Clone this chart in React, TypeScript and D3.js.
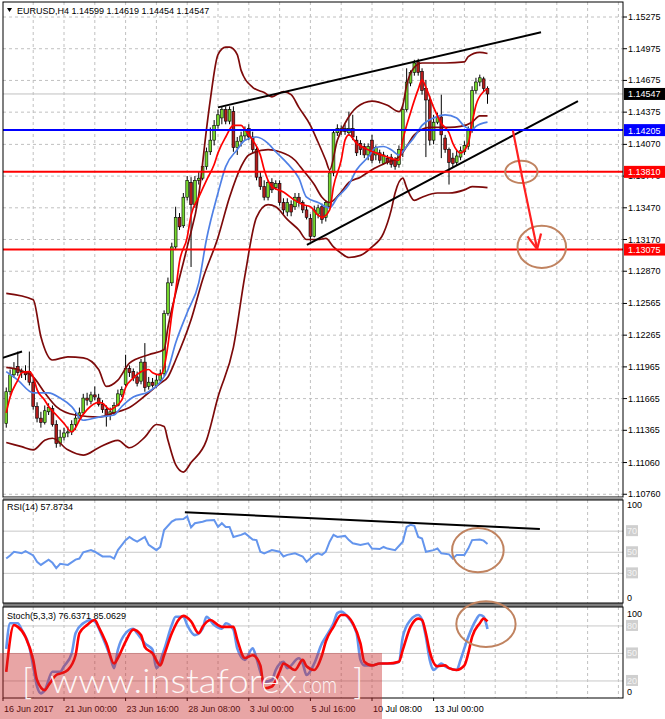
import { useEffect, useRef } from 'react';
import * as d3 from 'd3';

type Pt = [number, number];

// EURUSD H4 bars: [open, high, low, close]
const candles: [number, number, number, number][] = [
  [1.1143, 1.1177, 1.1139, 1.1173], [1.1173, 1.1194, 1.1170, 1.1189], [1.1189, 1.1201, 1.1186, 1.1195],
  [1.1197, 1.1211, 1.1188, 1.1191], [1.1191, 1.1195, 1.1186, 1.1192], [1.1192, 1.1198, 1.1184, 1.1189],
  [1.1192, 1.1211, 1.1179, 1.1182], [1.1182, 1.1186, 1.1156, 1.1159], [1.1159, 1.1163, 1.1144, 1.1148],
  [1.1148, 1.1154, 1.1139, 1.1144], [1.1144, 1.1160, 1.1142, 1.1155], [1.1154, 1.1162, 1.1151, 1.1158],
  [1.1157, 1.1160, 1.1140, 1.1142], [1.1142, 1.1146, 1.1120, 1.1124], [1.1124, 1.1137, 1.1121, 1.1130],
  [1.1130, 1.1139, 1.1127, 1.1134], [1.1134, 1.1140, 1.1130, 1.1135], [1.1135, 1.1146, 1.1132, 1.1142],
  [1.1142, 1.1153, 1.1137, 1.1148], [1.1148, 1.1158, 1.1146, 1.1153], [1.1153, 1.1171, 1.1151, 1.1167],
  [1.1167, 1.1172, 1.1160, 1.1165], [1.1164, 1.1173, 1.1161, 1.1170], [1.1170, 1.1178, 1.1165, 1.1168],
  [1.1167, 1.1171, 1.1159, 1.1161], [1.1161, 1.1165, 1.1153, 1.1156], [1.1156, 1.1160, 1.1140, 1.1150],
  [1.1151, 1.1158, 1.1146, 1.1154], [1.1153, 1.1163, 1.1151, 1.1160], [1.1160, 1.1175, 1.1159, 1.1171],
  [1.1170, 1.1178, 1.1168, 1.1175], [1.1180, 1.1208, 1.1178, 1.1195], [1.1195, 1.1198, 1.1187, 1.1191],
  [1.1192, 1.1195, 1.1183, 1.1186], [1.1187, 1.1192, 1.1178, 1.1181], [1.1183, 1.1204, 1.1180, 1.1201],
  [1.1201, 1.1219, 1.1173, 1.1177], [1.1178, 1.1187, 1.1175, 1.1182], [1.1182, 1.1186, 1.1177, 1.1179],
  [1.1179, 1.1189, 1.1177, 1.1184], [1.1184, 1.1194, 1.1181, 1.1190], [1.1190, 1.1250, 1.1188, 1.1247],
  [1.1247, 1.1281, 1.1245, 1.1276], [1.1276, 1.1314, 1.1273, 1.1310], [1.1310, 1.1348, 1.1307, 1.1338],
  [1.1338, 1.1342, 1.1326, 1.1329], [1.1330, 1.1361, 1.1328, 1.1357], [1.1357, 1.1377, 1.1354, 1.1373],
  [1.1371, 1.1376, 1.1291, 1.1350], [1.1350, 1.1377, 1.1347, 1.1373], [1.1373, 1.1381, 1.1369, 1.1375],
  [1.1375, 1.1389, 1.1373, 1.1386], [1.1386, 1.1404, 1.1383, 1.1400], [1.1400, 1.1423, 1.1397, 1.1411],
  [1.1411, 1.1430, 1.1406, 1.1425], [1.1425, 1.1440, 1.1422, 1.1435], [1.1432, 1.1443, 1.1426, 1.1440],
  [1.1440, 1.1443, 1.1426, 1.1429], [1.1429, 1.1443, 1.1426, 1.1440], [1.1438, 1.1443, 1.1400, 1.1404],
  [1.1404, 1.1414, 1.1397, 1.1410], [1.1410, 1.1419, 1.1405, 1.1415], [1.1415, 1.1424, 1.1411, 1.1421],
  [1.1422, 1.1426, 1.1411, 1.1414], [1.1414, 1.1419, 1.1399, 1.1402], [1.1402, 1.1405, 1.1373, 1.1376],
  [1.1376, 1.1381, 1.1364, 1.1367], [1.1367, 1.1373, 1.1354, 1.1357], [1.1357, 1.1373, 1.1354, 1.1371],
  [1.1371, 1.1375, 1.1361, 1.1364], [1.1366, 1.1373, 1.1364, 1.1370], [1.1370, 1.1373, 1.1349, 1.1352],
  [1.1352, 1.1356, 1.1341, 1.1345], [1.1343, 1.1356, 1.1339, 1.1352], [1.1350, 1.1354, 1.1339, 1.1343],
  [1.1348, 1.1361, 1.1345, 1.1357], [1.1357, 1.1361, 1.1348, 1.1352], [1.1352, 1.1354, 1.1342, 1.1345],
  [1.1345, 1.1349, 1.1336, 1.1338], [1.1337, 1.1341, 1.1315, 1.1320], [1.1320, 1.1349, 1.1319, 1.1345],
  [1.1341, 1.1350, 1.1337, 1.1347], [1.1348, 1.1351, 1.1332, 1.1336], [1.1338, 1.1354, 1.1334, 1.1352],
  [1.1348, 1.1383, 1.1346, 1.1380], [1.1380, 1.1421, 1.1377, 1.1418], [1.1418, 1.1426, 1.1415, 1.1422],
  [1.1419, 1.1425, 1.1416, 1.1422], [1.1422, 1.1426, 1.1416, 1.1419], [1.1418, 1.1438, 1.1415, 1.1422],
  [1.1422, 1.1435, 1.1411, 1.1414], [1.1411, 1.1415, 1.1396, 1.1399], [1.1408, 1.1411, 1.1397, 1.1402],
  [1.1405, 1.1408, 1.1394, 1.1397], [1.1397, 1.1408, 1.1392, 1.1405], [1.1411, 1.1416, 1.1389, 1.1392],
  [1.1397, 1.1406, 1.1392, 1.1404], [1.1399, 1.1402, 1.1389, 1.1392], [1.1389, 1.1400, 1.1388, 1.1397],
  [1.1394, 1.1397, 1.1388, 1.1390], [1.1395, 1.1398, 1.1385, 1.1388], [1.1392, 1.1395, 1.1383, 1.1386],
  [1.1388, 1.1406, 1.1385, 1.1402], [1.1402, 1.1444, 1.1395, 1.1440], [1.1440, 1.1479, 1.1438, 1.1466],
  [1.1465, 1.1477, 1.1462, 1.1475], [1.1475, 1.1487, 1.1472, 1.1484], [1.1485, 1.1488, 1.1472, 1.1475],
  [1.1476, 1.1479, 1.1454, 1.1458], [1.1460, 1.1468, 1.1395, 1.1449], [1.1449, 1.1453, 1.1406, 1.1411],
  [1.1411, 1.1435, 1.1407, 1.1428], [1.1428, 1.1437, 1.1426, 1.1433], [1.1433, 1.1454, 1.1394, 1.1416],
  [1.1413, 1.1416, 1.1399, 1.1402], [1.1402, 1.1404, 1.1369, 1.1390], [1.1394, 1.1399, 1.1385, 1.1389],
  [1.1390, 1.1402, 1.1387, 1.1396], [1.1395, 1.1405, 1.1392, 1.1401], [1.1400, 1.1410, 1.1397, 1.1406],
  [1.1405, 1.1424, 1.1402, 1.1421], [1.1421, 1.1462, 1.1418, 1.1458], [1.1458, 1.1470, 1.1455, 1.1466],
  [1.1466, 1.1473, 1.1462, 1.1470], [1.1469, 1.1471, 1.1457, 1.1460], [1.14599, 1.14619, 1.14454, 1.14547],
];

// Bollinger bands and moving averages, [bar, price]
const bbUpper: Pt[] = [
  [0, 1.1266], [7, 1.1260], [9, 1.1225], [12, 1.1203], [16, 1.1206], [20, 1.1205], [24, 1.1194], [26, 1.1178],
  [29, 1.1184], [32, 1.1200], [37, 1.1208], [41, 1.1213], [42, 1.1234], [44, 1.1266], [47, 1.1310], [50, 1.1359],
  [52, 1.1421], [53, 1.1449], [55, 1.1492], [57, 1.1499], [58, 1.1499], [60, 1.1492], [61, 1.1477], [64, 1.1461],
  [67, 1.1456], [69, 1.1452], [72, 1.1457], [74, 1.1454], [76, 1.1442], [79, 1.1425], [81, 1.1409], [83, 1.1392],
  [84, 1.1383], [86, 1.1411], [88, 1.1427], [91, 1.1442], [95, 1.1448], [99, 1.1444], [102, 1.1438], [103, 1.1444],
  [104, 1.1463], [106, 1.1480], [108, 1.1484], [114, 1.1484], [119, 1.1485], [120, 1.1490], [123, 1.1494], [125, 1.1493],
];
const bbMiddle: Pt[] = [
  [0, 1.1196], [3, 1.1194], [7, 1.1187], [10, 1.1172], [13, 1.1159], [18, 1.1151], [24, 1.1149], [28, 1.1153],
  [32, 1.1158], [37, 1.1172], [40, 1.1181], [42, 1.1187], [44, 1.1203], [48, 1.1241], [51, 1.1279], [55, 1.1319],
  [58, 1.1357], [61, 1.1386], [63, 1.1397], [68, 1.1402], [71, 1.1400], [75, 1.1392], [77, 1.1383], [80, 1.1369],
  [82, 1.1357], [84, 1.1352], [87, 1.1362], [89, 1.1371], [92, 1.1376], [95, 1.1383], [99, 1.1390], [102, 1.1395],
  [104, 1.1405], [106, 1.1416], [110, 1.1423], [115, 1.1423], [118, 1.1424], [121, 1.1428], [123, 1.1434], [125, 1.1434],
];
const bbLower: Pt[] = [
  [0, 1.1125], [4, 1.1121], [7, 1.1118], [10, 1.1127], [12, 1.1129], [16, 1.1118], [20, 1.1113], [24, 1.1120],
  [29, 1.1127], [32, 1.1120], [36, 1.1130], [39, 1.1142], [41, 1.1140], [42, 1.1127], [44, 1.1104], [46, 1.1097],
  [48, 1.1106], [52, 1.1127], [55, 1.1168], [59, 1.1215], [62, 1.1283], [65, 1.1338], [68, 1.1350], [70, 1.1348],
  [73, 1.1336], [76, 1.1326], [78, 1.1317], [81, 1.1317], [83, 1.1318], [85, 1.1310], [87, 1.1304], [89, 1.1300],
  [92, 1.1302], [95, 1.1310], [98, 1.1323], [100, 1.1345], [101, 1.1361], [103, 1.1375], [104, 1.1366], [106, 1.1354],
  [108, 1.1357], [112, 1.1361], [115, 1.1361], [119, 1.1364], [121, 1.1367], [125, 1.1366],
];
const maSlow: Pt[] = [
  [0, 1.1192], [3, 1.1184], [7, 1.1172], [11, 1.1172], [14, 1.1167], [17, 1.1159], [20, 1.1146], [24, 1.1149],
  [28, 1.1151], [30, 1.1159], [33, 1.1168], [37, 1.1173], [40, 1.1182], [42, 1.1194], [44, 1.1219], [47, 1.1248],
  [50, 1.1276], [52, 1.1317], [55, 1.1361], [57, 1.1386], [60, 1.1402], [62, 1.1411], [65, 1.1414], [68, 1.1408],
  [70, 1.1400], [73, 1.1389], [76, 1.1375], [78, 1.1357], [81, 1.1352], [84, 1.1347], [86, 1.1357], [89, 1.1369],
  [91, 1.1383], [94, 1.1395], [96, 1.1404], [98, 1.1405], [100, 1.1402], [102, 1.1397], [104, 1.1405], [106, 1.1414],
  [108, 1.1425], [111, 1.1432], [114, 1.1435], [117, 1.1432], [119, 1.1424], [121, 1.1421], [122, 1.1424], [125, 1.1428],
];
const maFast: Pt[] = [
  [0, 1.1153], [1, 1.1168], [3, 1.1184], [4, 1.1191], [6, 1.1192], [7, 1.1187], [8, 1.1175], [10, 1.1165],
  [11, 1.1159], [13, 1.1151], [15, 1.1143], [17, 1.1135], [18, 1.1139], [19, 1.1146], [21, 1.1156], [24, 1.1163],
  [25, 1.1162], [27, 1.1156], [28, 1.1158], [30, 1.1165], [31, 1.1177], [33, 1.1186], [35, 1.1192], [37, 1.1194],
  [38, 1.1191], [40, 1.1189], [41, 1.1196], [42, 1.1217], [43, 1.1246], [44, 1.1269], [45, 1.1296], [47, 1.1319],
  [48, 1.1340], [50, 1.1357], [52, 1.1373], [54, 1.1388], [55, 1.1399], [57, 1.1414], [59, 1.1425], [61, 1.1425],
  [62, 1.1421], [64, 1.1411], [66, 1.1397], [67, 1.1383], [69, 1.1367], [72, 1.1362], [75, 1.1354], [77, 1.1350],
  [79, 1.1348], [81, 1.1340], [82, 1.1338], [84, 1.1345], [85, 1.1367], [87, 1.1392], [88, 1.1411], [89, 1.1416],
  [91, 1.1408], [94, 1.1402], [96, 1.1399], [99, 1.1395], [102, 1.1392], [103, 1.1411], [105, 1.1437], [107, 1.1459],
  [108, 1.1468], [109, 1.1461], [111, 1.1442], [113, 1.1427], [115, 1.1418], [116, 1.1408], [118, 1.1399], [120, 1.1408],
  [121, 1.1427], [122, 1.1444], [124, 1.1457], [125, 1.1460],
];

// RSI(14), [bar, value]
const rsi: Pt[] = [
  [0, 44], [1, 47], [2, 50.5], [4, 49], [5, 51], [7, 47], [8, 41], [9, 38], [11, 43], [12, 40], [13, 35], [14, 39],
  [16, 38], [18, 43], [19, 44], [20, 50], [22, 52], [23, 50.5], [25, 46], [27, 46], [28, 44], [29, 52], [31, 61.5],
  [32, 64.5], [33, 62], [34, 60], [36, 64.5], [37, 57], [39, 52], [40, 55], [41, 71], [43, 79], [44, 81], [46, 81.5],
  [47, 84], [48, 73.5], [49, 77.5], [51, 79], [52, 80], [54, 80.5], [55, 74], [56, 77.5], [57, 74], [58, 74], [59, 64.5],
  [61, 66.5], [62, 68], [64, 62], [65, 61.5], [66, 50.5], [67, 49], [69, 52], [71, 50.5], [72, 46], [73, 47.5], [75, 49],
  [77, 46], [78, 41], [80, 47.5], [81, 49], [82, 47.5], [83, 50.5], [84, 60], [85, 66.5], [86, 64.5], [88, 65.5],
  [89, 61.5], [90, 58.5], [92, 57], [94, 58.5], [95, 53.5], [97, 53], [98, 55], [99, 53.5], [101, 52], [103, 60],
  [104, 74], [105, 76], [106, 75], [107, 64.5], [108, 63], [109, 50.5], [111, 52], [112, 53.5], [113, 49], [115, 48],
  [116, 44], [117, 47.5], [119, 47.5], [120, 53.5], [121, 61.5], [123, 62], [124, 61], [125, 57.8734],
];

// Stochastic(5,3,3) main and signal, [bar, value]
const stochMain: Pt[] = [
  [0, 55], [1, 83], [3, 83], [4, 76], [6, 57], [7, 36], [8, 14], [9, 6.5], [10, 10], [12, 30], [14, 30], [15, 36],
  [17, 50], [18, 72], [20, 83], [22, 86.5], [23, 84.7], [25, 68], [27, 46.5], [28, 34], [29, 54], [31, 72], [33, 77],
  [34, 72], [36, 61], [38, 54], [39, 34], [41, 54], [43, 81], [44, 90], [46, 90], [47, 81], [49, 70], [51, 77],
  [52, 90], [54, 81], [56, 77], [57, 83], [59, 76], [60, 55.6], [62, 43], [64, 55.6], [65, 44.7], [66, 30], [67, 19],
  [69, 21], [70, 32], [72, 41], [73, 34], [76, 44.7], [77, 39], [78, 26.5], [80, 39], [82, 61], [83, 68], [85, 83],
  [86, 94], [87, 95.6], [89, 88], [91, 72], [92, 43], [93, 37], [95, 37], [97, 39], [98, 39], [100, 39], [102, 41],
  [103, 68], [105, 86.5], [107, 92], [108, 86.5], [109, 68], [110, 43], [111, 32], [113, 39], [114, 36], [115, 34],
  [117, 32], [118, 43], [120, 68], [122, 86.5], [123, 92], [124, 90], [125, 76.6371],
];
const stochSignal: Pt[] = [
  [0, 30], [2, 81], [3, 79], [5, 68], [7, 43], [8, 21], [10, 10], [11, 15.6], [13, 26.5], [14, 28], [16, 32], [18, 48],
  [19, 72], [21, 81], [23, 86.5], [24, 79], [26, 61], [28, 39], [29, 45], [31, 63], [33, 76], [35, 70], [36, 57],
  [38, 50], [40, 37], [41, 48], [43, 72], [45, 88], [46, 91], [48, 85], [50, 72], [51, 79], [53, 86.5], [55, 81],
  [56, 79], [59, 79], [60, 65], [62, 45], [64, 48], [66, 37], [67, 12], [69, 14], [71, 30], [72, 39], [75, 32],
  [77, 43], [78, 36], [80, 32], [82, 48], [83, 63], [85, 79], [87, 92], [88, 92], [90, 83], [92, 61], [93, 41],
  [95, 37], [97, 39], [99, 39], [102, 41], [103, 54], [105, 79], [107, 88], [108, 86.5], [109, 72], [110, 52],
  [112, 36], [114, 37], [115, 34], [117, 32], [119, 37], [120, 50], [121, 68], [123, 83], [124, 88], [125, 85.0629],
];

const priceTicks = [
  1.15275, 1.14975, 1.14675, 1.14375, 1.1407, 1.1377, 1.1347, 1.1317,
  1.1287, 1.12565, 1.12265, 1.11965, 1.11665, 1.11365, 1.1106, 1.1076,
];
const timeTickBars = [0, 15, 31, 47, 63, 79, 95, 111];
const timeTickLabels = [
  '16 Jun 2017', '21 Jun 00:00', '23 Jun 16:00', '28 Jun 08:00',
  '3 Jul 00:00', '5 Jul 16:00', '10 Jul 08:00', '13 Jul 00:00',
];
const lastPrice = 1.14547;
const resistanceLevel = 1.14205;
const supportLevels = [1.1381, 1.13075];
const rsiLevels = [70, 50, 30];
const stochLevels = [80, 50, 20];

// hand-drawn analysis objects, in [bar, price] / [bar, value]
const wedgeUpper: Pt[] = [[55, 1.1442], [138.9, 1.1513]];
const wedgeLower: Pt[] = [[78.1, 1.1312], [148.5, 1.1448]];
const oldTrend: Pt[] = [[-1, 1.1205], [4.1, 1.1211]];
const rsiTrend: Pt[] = [[46.4, 88], [138.6, 72]];
const forecastArrow: Pt[] = [[131.6, 1.142], [134, 1.1376], [137.9, 1.1308]];
const mainCircles = [
  { bar: 133.8, price: 1.1381, dBar: 4.2, dPrice: 0.00105 },
  { bar: 139.1, price: 1.131, dBar: 6.3, dPrice: 0.002 },
];
const rsiCircle = { bar: 122.5, value: 52, dBar: 6.7, dValue: 21 };
const stochCircle = { bar: 124.6, value: 82, dBar: 7.7, dValue: 25 };

const FONT = '"Liberation Sans", Arial, sans-serif';

export default function App() {
  const svgRef = useRef<SVGSVGElement>(null);

  useEffect(() => {
    if (!svgRef.current) return;
    document.body.style.margin = '0';
    const svg = d3.select(svgRef.current);
    svg.selectAll('*').remove();

    const W = 665, H = 719;
    const left = 3, right = 623;
    const main = { top: 2, bottom: 497 };
    const rsiP = { top: 500, bottom: 603 };
    const stoP = { top: 607, bottom: 698 };

    const x = d3.scaleLinear().domain([0, 125]).range([6.25, 487.5]);
    const y = d3.scaleLinear().domain([1.10734, 1.15417]).range([main.bottom, main.top]);
    const yR = d3.scaleLinear().domain([0, 100]).range([605, 499.5]);
    const yS = d3.scaleLinear().domain([0, 100]).range([699.3, 607.6]);

    svg.append('rect').attr('width', W).attr('height', H).attr('fill', '#fff');

    const defs = svg.append('defs');
    const clip = (id: string, top: number, bottom: number) =>
      defs.append('clipPath').attr('id', id).append('rect')
        .attr('x', left).attr('y', top).attr('width', right - left).attr('height', bottom - top);
    clip('clipMain', main.top, main.bottom);
    clip('clipRsi', rsiP.top, rsiP.bottom);
    clip('clipSto', stoP.top, stoP.bottom);

    const gridColor = '#c0c0c0';
    const gridBars = d3.range(7, 160, 8).filter(b => x(b) < right - 2);

    const vGrid = (g: any, top: number, bottom: number) => {
      gridBars.forEach(b => {
        g.append('line').attr('x1', x(b)).attr('x2', x(b)).attr('y1', top).attr('y2', bottom)
          .attr('stroke', gridColor).attr('stroke-dasharray', '3,3');
      });
    };

    const curve = (ys: any) => d3.line<Pt>().x(d => x(d[0])).y(d => ys(d[1])).curve(d3.curveMonotoneX);

    // ---------- main panel ----------
    const gm = svg.append('g').attr('clip-path', 'url(#clipMain)');
    priceTicks.forEach(p => {
      gm.append('line').attr('x1', left).attr('x2', right).attr('y1', y(p)).attr('y2', y(p))
        .attr('stroke', gridColor).attr('stroke-dasharray', '3,3');
    });
    vGrid(gm, main.top, main.bottom);

    // bid line
    gm.append('line').attr('x1', left).attr('x2', right).attr('y1', y(lastPrice)).attr('y2', y(lastPrice))
      .attr('stroke', '#c0c0c0');

    // candles
    const bw = 2.8;
    candles.forEach(([o, h, l, c], i) => {
      const cx = x(i);
      gm.append('line').attr('x1', cx).attr('x2', cx).attr('y1', y(h)).attr('y2', y(l))
        .attr('stroke', '#000').attr('stroke-width', 1);
      const top = y(Math.max(o, c));
      const hgt = Math.max(1, Math.abs(y(o) - y(c)));
      gm.append('rect').attr('x', cx - bw / 2).attr('y', top).attr('width', bw).attr('height', hgt)
        .attr('fill', c >= o ? '#74d62c' : '#b31b1b').attr('stroke', '#000').attr('stroke-width', 0.6);
    });

    // indicators
    [bbUpper, bbMiddle, bbLower].forEach(s => {
      gm.append('path').attr('d', curve(y)(s)).attr('fill', 'none')
        .attr('stroke', '#7d0a0a').attr('stroke-width', 1.7);
    });
    gm.append('path').attr('d', curve(y)(maSlow)).attr('fill', 'none')
      .attr('stroke', '#4f80e6').attr('stroke-width', 1.7);
    gm.append('path').attr('d', curve(y)(maFast)).attr('fill', 'none')
      .attr('stroke', '#ff0000').attr('stroke-width', 1.7);

    // trendlines
    const straight = d3.line<Pt>().x(d => x(d[0])).y(d => y(d[1]));
    [wedgeUpper, wedgeLower, oldTrend].forEach(t => {
      gm.append('path').attr('d', straight(t)).attr('stroke', '#000').attr('stroke-width', 2).attr('fill', 'none');
    });

    // horizontal levels
    gm.append('line').attr('x1', left).attr('x2', right).attr('y1', y(resistanceLevel)).attr('y2', y(resistanceLevel))
      .attr('stroke', '#0000ff').attr('stroke-width', 2);
    supportLevels.forEach(p => {
      gm.append('line').attr('x1', left).attr('x2', right).attr('y1', y(p)).attr('y2', y(p))
        .attr('stroke', '#ff0000').attr('stroke-width', 2);
    });

    // circles
    const brown = '#c08360';
    mainCircles.forEach(cn => {
      gm.append('ellipse').attr('cx', x(cn.bar)).attr('cy', y(cn.price))
        .attr('rx', x(cn.bar + cn.dBar) - x(cn.bar)).attr('ry', y(cn.price) - y(cn.price + cn.dPrice))
        .attr('fill', 'none').attr('stroke', brown).attr('stroke-width', 2);
    });

    // forecast arrow
    gm.append('path').attr('d', straight(forecastArrow)).attr('fill', 'none')
      .attr('stroke', '#ff2020').attr('stroke-width', 2.2);
    const tip = forecastArrow[forecastArrow.length - 1];
    const prev = forecastArrow[forecastArrow.length - 2];
    const tx = x(tip[0]), ty = y(tip[1]);
    const ang = Math.atan2(ty - y(prev[1]), tx - x(prev[0]));
    [-0.45, 0.45].forEach(da => {
      const a = ang + Math.PI + da;
      gm.append('line').attr('x1', tx).attr('y1', ty)
        .attr('x2', tx + 16 * Math.cos(a)).attr('y2', ty + 16 * Math.sin(a))
        .attr('stroke', '#ff2020').attr('stroke-width', 2.2);
    });

    svg.append('rect').attr('x', left).attr('y', main.top).attr('width', right - left)
      .attr('height', main.bottom - main.top).attr('fill', 'none').attr('stroke', '#000');

    // title
    svg.append('path').attr('d', 'M7,8 L12,8 L9.5,12 Z').attr('fill', '#000');
    svg.append('text').attr('x', 17).attr('y', 14).attr('font-family', FONT).attr('font-size', 9)
      .text('EURUSD,H4  1.14599 1.14619 1.14454 1.14547');

    // price axis
    const fmt = d3.format('.5f');
    priceTicks.forEach(p => {
      svg.append('line').attr('x1', right).attr('x2', right + 4).attr('y1', y(p)).attr('y2', y(p)).attr('stroke', '#000');
      svg.append('text').attr('x', 628).attr('y', y(p) + 3).attr('font-family', FONT).attr('font-size', 9)
        .text(fmt(p));
    });
    const tag = (p: number, bg: string) => {
      svg.append('rect').attr('x', 624).attr('y', y(p) - 6).attr('width', 41).attr('height', 12).attr('fill', bg);
      svg.append('text').attr('x', 628).attr('y', y(p) + 3.5).attr('font-family', FONT).attr('font-size', 9)
        .attr('fill', '#fff').text(fmt(p));
    };
    tag(lastPrice, '#000');
    tag(resistanceLevel, '#0000ff');
    supportLevels.forEach(p => tag(p, '#ff0000'));

    // ---------- separators ----------
    svg.append('rect').attr('x', left).attr('y', main.bottom).attr('width', right - left)
      .attr('height', rsiP.top - main.bottom).attr('fill', '#9a9a9a');
    svg.append('rect').attr('x', left).attr('y', rsiP.bottom).attr('width', right - left)
      .attr('height', stoP.top - rsiP.bottom).attr('fill', '#7d7d7d');

    // ---------- RSI panel ----------
    const gr = svg.append('g').attr('clip-path', 'url(#clipRsi)');
    vGrid(gr, rsiP.top, rsiP.bottom);
    rsiLevels.forEach(v => {
      gr.append('line').attr('x1', left).attr('x2', right).attr('y1', yR(v)).attr('y2', yR(v)).attr('stroke', '#c8c8c8');
    });
    gr.append('path').attr('d', d3.line<Pt>().x(d => x(d[0])).y(d => yR(d[1]))(rsi)).attr('fill', 'none')
      .attr('stroke', '#6495ed').attr('stroke-width', 2);
    gr.append('path').attr('d', d3.line<Pt>().x(d => x(d[0])).y(d => yR(d[1]))(rsiTrend))
      .attr('stroke', '#000').attr('stroke-width', 2);
    svg.append('ellipse').attr('cx', x(rsiCircle.bar)).attr('cy', yR(rsiCircle.value))
      .attr('rx', x(rsiCircle.bar + rsiCircle.dBar) - x(rsiCircle.bar))
      .attr('ry', yR(rsiCircle.value) - yR(rsiCircle.value + rsiCircle.dValue))
      .attr('fill', 'none').attr('stroke', brown).attr('stroke-width', 2);
    svg.append('rect').attr('x', left).attr('y', rsiP.top).attr('width', right - left)
      .attr('height', rsiP.bottom - rsiP.top).attr('fill', 'none').attr('stroke', '#000');
    svg.append('text').attr('x', 7).attr('y', 510).attr('font-family', FONT).attr('font-size', 9)
      .text('RSI(14) 57.8734');

    // ---------- Stochastic panel ----------
    const gs = svg.append('g').attr('clip-path', 'url(#clipSto)');
    vGrid(gs, stoP.top, stoP.bottom);
    stochLevels.forEach(v => {
      gs.append('line').attr('x1', left).attr('x2', right).attr('y1', yS(v)).attr('y2', yS(v)).attr('stroke', '#c8c8c8');
    });
    gs.append('path').attr('d', curve(yS)(stochMain)).attr('fill', 'none')
      .attr('stroke', '#6495ed').attr('stroke-width', 2.6);
    gs.append('path').attr('d', curve(yS)(stochSignal)).attr('fill', 'none')
      .attr('stroke', '#ff0000').attr('stroke-width', 2.6);
    svg.append('rect').attr('x', left).attr('y', stoP.top).attr('width', right - left)
      .attr('height', stoP.bottom - stoP.top).attr('fill', 'none').attr('stroke', '#000');
    svg.append('ellipse').attr('cx', x(stochCircle.bar)).attr('cy', yS(stochCircle.value))
      .attr('rx', x(stochCircle.bar + stochCircle.dBar) - x(stochCircle.bar))
      .attr('ry', yS(stochCircle.value) - yS(stochCircle.value + stochCircle.dValue))
      .attr('fill', 'none').attr('stroke', brown).attr('stroke-width', 2);
    svg.append('text').attr('x', 7).attr('y', 619).attr('font-family', FONT).attr('font-size', 9)
      .text('Stoch(5,3,3) 76.6371 85.0629');

    // indicator scales on the right
    const sideLabel = (yy: number, txt: string, level: boolean) => {
      if (level) {
        svg.append('rect').attr('x', 626).attr('y', yy - 6).attr('width', 12).attr('height', 11).attr('fill', '#cfcfcf');
        svg.append('text').attr('x', 627).attr('y', yy + 3).attr('font-family', FONT).attr('font-size', 9)
          .attr('fill', '#f4f4f4').text(txt);
      } else {
        svg.append('text').attr('x', 627).attr('y', yy + 3).attr('font-family', FONT).attr('font-size', 9).text(txt);
      }
    };
    sideLabel(505, '100', false);
    rsiLevels.forEach(v => sideLabel(yR(v), String(v), true));
    sideLabel(598, '0', false);
    sideLabel(614, '100', false);
    stochLevels.forEach(v => sideLabel(yS(v), String(v), true));
    sideLabel(692, '0', false);

    // time axis
    timeTickBars.forEach((b, i) => {
      const tx0 = i === 0 ? left : x(b);
      svg.append('line').attr('x1', tx0).attr('x2', tx0).attr('y1', stoP.bottom).attr('y2', stoP.bottom + 3).attr('stroke', '#000');
      svg.append('text').attr('x', tx0 + 1).attr('y', 712).attr('font-family', FONT).attr('font-size', 9)
        .text(timeTickLabels[i]);
    });

    // watermark
    svg.append('rect').attr('x', 0).attr('y', 653).attr('width', 382).attr('height', 66)
      .attr('fill', 'rgb(200,40,40)').attr('opacity', 0.42);
    const wm = svg.append('g').attr('fill', '#fff').attr('opacity', 0.92)
      .attr('font-family', 'Lato, "Open Sans", sans-serif').attr('font-weight', 300);
    wm.append('text').attr('x', 22).attr('y', 694).attr('font-size', 35).text('[');
    wm.append('text').attr('x', 50).attr('y', 693).attr('font-size', 34)
      .attr('textLength', 247).attr('lengthAdjust', 'spacingAndGlyphs').text('www.instaforex');
    wm.append('text').attr('x', 298).attr('y', 693).attr('font-size', 23)
      .attr('textLength', 39).attr('lengthAdjust', 'spacingAndGlyphs').text('.com');
    wm.append('text').attr('x', 353).attr('y', 694).attr('font-size', 35).text(']');
  }, []);

  return (
    <div style={{ width: 665, height: 719 }}>
      <svg ref={svgRef} width={665} height={719} style={{ display: 'block' }} />
    </div>
  );
}
